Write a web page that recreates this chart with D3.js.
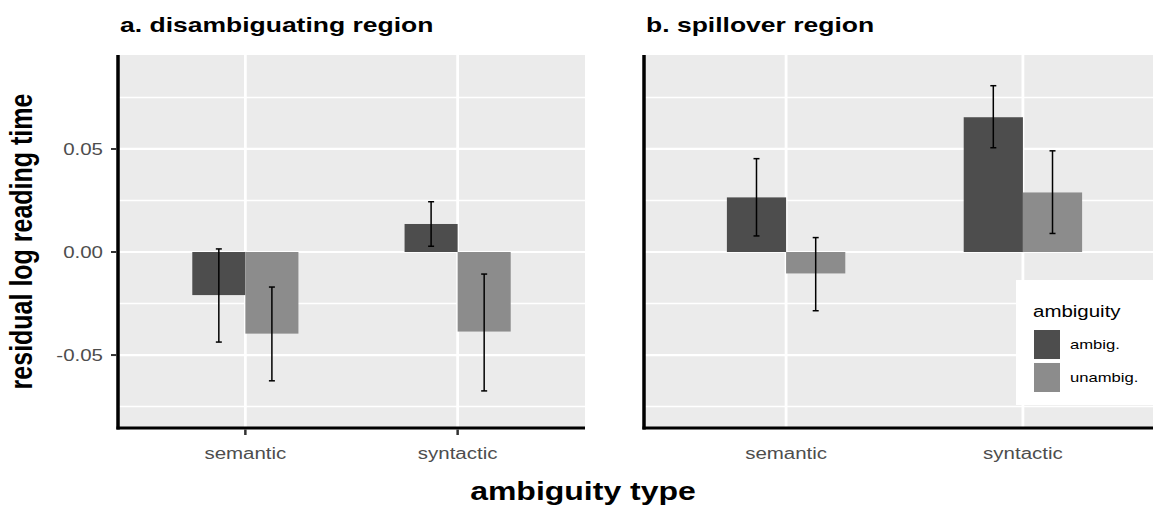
<!DOCTYPE html>
<html lang="en">
<head>
  <meta charset="UTF-8">
  <title>Residual log reading time</title>
  <script src="https://d3js.org/d3.v7.min.js"></script>
  <style>
    body {
      margin: 0;
      background: #fff;
      font-family: "Liberation Sans", Arial, sans-serif;
    }
    svg { display: block; }
  </style>
</head>
<body>
  <script>
    // values: [type, condition, mean, lower, upper]
    const regionTitles = ["a. disambiguating region", "b. spillover region"];
    const ambiguityTypes = ["semantic", "syntactic"];
    const conditions = ["ambig.", "unambig."];
    const yTicks = [-0.05, 0, 0.05];
    const yMinor = [-0.075, -0.025, 0.025, 0.075];

    const disambigRows = [
      ["semantic", "ambig.", -0.0209, -0.0437, 0.0015],
      ["semantic", "unambig.", -0.0396, -0.0625, -0.0170],
      ["syntactic", "ambig.", 0.0136, 0.0028, 0.0244],
      ["syntactic", "unambig.", -0.0386, -0.0674, -0.0107]
    ];
    const spilloverRows = [
      ["semantic", "ambig.", 0.0265, 0.0078, 0.0453],
      ["semantic", "unambig.", -0.0104, -0.0285, 0.0070],
      ["syntactic", "ambig.", 0.0654, 0.0506, 0.0807],
      ["syntactic", "unambig.", 0.0289, 0.0090, 0.0491]
    ];

    const width = 1153;
    const height = 507;
    const stretch = 1.28; // the figure is wider than tall, text included

    const colors = d3.scaleOrdinal().domain(conditions).range(["#4d4d4d", "#8c8c8c"]);

    const svg = d3.select("body").append("svg")
      .attr("width", width)
      .attr("height", height);

    const panelTop = 55, panelBottom = 428;
    const y = d3.scaleLinear().domain([-0.0854, 0.0956]).range([panelBottom, panelTop]);

    function label(g, x, yy, str, size, opts = {}) {
      return g.append("text")
        .attr("transform", `translate(${x},${yy}) scale(${stretch},1)`)
        .attr("text-anchor", opts.anchor || "start")
        .attr("font-size", size)
        .attr("font-weight", opts.bold ? "bold" : "normal")
        .attr("fill", opts.fill || "#000")
        .text(str);
    }

    const panels = [
      { title: regionTitles[0], rows: disambigRows, left: 118, right: 585, axisText: true },
      { title: regionTitles[1], rows: spilloverRows, left: 644, right: 1165, axisText: false }
    ];

    panels.forEach(p => {
      const g = svg.append("g");
      const x = d3.scalePoint().domain(ambiguityTypes).range([p.left, p.right]).padding(0.6);
      const step = x.step();
      const dodge = d3.scaleBand().domain(conditions).range([-0.25 * step, 0.25 * step]);

      // panel background + grid
      g.append("rect")
        .attr("x", p.left).attr("y", panelTop)
        .attr("width", p.right - p.left).attr("height", panelBottom - panelTop)
        .attr("fill", "#ebebeb");

      g.selectAll(".minor").data(yMinor).enter().append("line")
        .attr("x1", p.left).attr("x2", p.right)
        .attr("y1", d => y(d)).attr("y2", d => y(d))
        .attr("stroke", "#fff").attr("stroke-width", 1.4);

      g.selectAll(".major").data(yTicks).enter().append("line")
        .attr("x1", p.left).attr("x2", p.right)
        .attr("y1", d => y(d)).attr("y2", d => y(d))
        .attr("stroke", "#fff").attr("stroke-width", 2.2);

      g.selectAll(".vgrid").data(ambiguityTypes).enter().append("line")
        .attr("x1", d => x(d)).attr("x2", d => x(d))
        .attr("y1", panelTop).attr("y2", panelBottom)
        .attr("stroke", "#fff").attr("stroke-width", 2.8);

      // bars
      g.selectAll(".bar").data(p.rows).enter().append("rect")
        .attr("x", d => x(d[0]) + dodge(d[1]))
        .attr("width", dodge.bandwidth())
        .attr("y", d => y(Math.max(0, d[2])))
        .attr("height", d => Math.abs(y(d[2]) - y(0)))
        .attr("fill", d => colors(d[1]));

      // error bars
      const cap = 3;
      const eb = g.selectAll(".err").data(p.rows).enter().append("g")
        .attr("stroke", "#000").attr("stroke-width", 1.5);
      const cx = d => x(d[0]) + dodge(d[1]) + dodge.bandwidth() / 2;
      eb.append("line").attr("x1", cx).attr("x2", cx)
        .attr("y1", d => y(d[3])).attr("y2", d => y(d[4]));
      eb.append("line").attr("x1", d => cx(d) - cap).attr("x2", d => cx(d) + cap)
        .attr("y1", d => y(d[3])).attr("y2", d => y(d[3]));
      eb.append("line").attr("x1", d => cx(d) - cap).attr("x2", d => cx(d) + cap)
        .attr("y1", d => y(d[4])).attr("y2", d => y(d[4]));

      // axis lines
      g.append("line").attr("x1", p.left).attr("x2", p.left)
        .attr("y1", panelTop).attr("y2", panelBottom + 1.5)
        .attr("stroke", "#000").attr("stroke-width", 3.5);
      g.append("line").attr("x1", p.left - 1.5).attr("x2", p.right)
        .attr("y1", panelBottom).attr("y2", panelBottom)
        .attr("stroke", "#000").attr("stroke-width", 3);

      // x tick labels
      ambiguityTypes.forEach(t => {
        if (p.axisText) {
          g.append("line").attr("x1", x(t)).attr("x2", x(t))
            .attr("y1", panelBottom + 1.5).attr("y2", panelBottom + 7)
            .attr("stroke", "#333").attr("stroke-width", 2.5);
        }
        label(g, x(t), 459, t, 16, { anchor: "middle", fill: "#4d4d4d" });
      });

      // y ticks (left panel only)
      if (p.axisText) {
        yTicks.forEach(v => {
          g.append("line").attr("x1", p.left - 7).attr("x2", p.left - 1.5)
            .attr("y1", y(v)).attr("y2", y(v))
            .attr("stroke", "#333").attr("stroke-width", 2);
          label(g, p.left - 15, y(v) + 5.8, v.toFixed(2), 16, { anchor: "end", fill: "#4d4d4d" });
        });
      }

      label(g, p.left + 2, 32, p.title, 20.7, { bold: true });
    });

    // axis titles
    label(svg, 583, 500, "ambiguity type", 25, { anchor: "middle", bold: true });
    svg.append("text")
      .attr("transform", `translate(32,${(panelTop + panelBottom) / 2}) rotate(-90) scale(1,${stretch})`)
      .attr("text-anchor", "middle")
      .attr("font-size", 25)
      .attr("font-weight", "bold")
      .text("residual log reading time");

    // legend
    const lg = svg.append("g");
    lg.append("rect").attr("x", 1016).attr("y", 280).attr("width", 160).attr("height", 125)
      .attr("fill", "#fff");
    label(lg, 1033, 317, "ambiguity", 16);
    const keyY = d3.scaleBand().domain(conditions).range([330, 392]).paddingInner(0.12);
    lg.selectAll(".key").data(conditions).enter().append("rect")
      .attr("x", 1034).attr("y", d => keyY(d))
      .attr("width", 26).attr("height", keyY.bandwidth())
      .attr("fill", d => colors(d));
    conditions.forEach(c => {
      label(lg, 1070, keyY(c) + keyY.bandwidth() / 2 + 4.7, c, 13);
    });
  </script>
</body>
</html>
